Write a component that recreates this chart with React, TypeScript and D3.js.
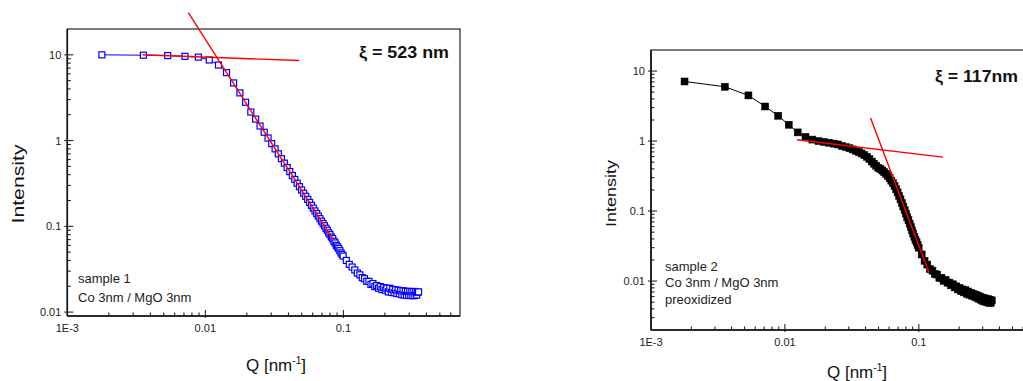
import React, { useEffect, useRef } from 'react';
import * as d3 from 'd3';

// Q grid [nm^-1] shared by both samples (tail thinned out)
const qValues = [
  0.00178, 0.00356, 0.00534, 0.00712, 0.0089, 0.01068, 0.01246, 0.01424, 0.01602, 0.0178,
  0.01958, 0.02136, 0.02314, 0.02492, 0.0267, 0.02848, 0.03026, 0.03204, 0.03382, 0.0356,
  0.03738, 0.03916, 0.04094, 0.04272, 0.0445, 0.04628, 0.04806, 0.04984,
  0.05162, 0.0534, 0.05518, 0.05696, 0.05874, 0.06052, 0.0623, 0.06408, 0.06586, 0.06764,
  0.06942, 0.0712, 0.07298, 0.07476, 0.07654, 0.07832, 0.0801, 0.08188, 0.08366, 0.08544,
  0.08722, 0.089, 0.09078, 0.09256, 0.09434, 0.09612, 0.0979, 0.09968,
  0.10502, 0.11036, 0.1157, 0.12104, 0.12638, 0.13172, 0.13706, 0.1424, 0.14774, 0.15308,
  0.15842, 0.16376, 0.1691, 0.17444, 0.17978, 0.18512, 0.19046, 0.1958, 0.20114, 0.20648,
  0.21182, 0.21716, 0.2225, 0.22784, 0.23318, 0.23852, 0.24386, 0.2492, 0.25454, 0.25988,
  0.26522, 0.27056, 0.2759, 0.28124, 0.28658, 0.29192, 0.29726, 0.3026, 0.30794, 0.31328,
  0.31862, 0.32396, 0.3293, 0.33464, 0.33998, 0.34532, 0.35066,
];

// sample 1 intensity
const intensity1 = [
  10.0, 9.9, 9.8, 9.6, 9.4, 8.7, 7.6, 6.2, 4.7, 3.6,
  2.8, 2.15, 1.78, 1.48, 1.25, 1.07, 0.92, 0.8, 0.7, 0.615,
  0.545, 0.485, 0.435, 0.39, 0.352, 0.318, 0.29, 0.265,
  0.243, 0.224, 0.206, 0.19, 0.1755, 0.163, 0.151, 0.141, 0.1316, 0.123,
  0.115, 0.108, 0.1016, 0.095, 0.09, 0.084, 0.08, 0.075, 0.072, 0.067,
  0.064, 0.06, 0.0575, 0.055, 0.052, 0.049, 0.047, 0.045,
  0.04, 0.036, 0.0335, 0.031, 0.0285, 0.0272, 0.0252, 0.0245, 0.0228, 0.0228,
  0.021, 0.0215, 0.0198, 0.0204, 0.019, 0.0198, 0.0183, 0.0193, 0.018, 0.019,
  0.0172, 0.0189, 0.017, 0.0184, 0.0168, 0.0182, 0.0165, 0.018, 0.0163, 0.0178,
  0.016, 0.0177, 0.0158, 0.0175, 0.0157, 0.0174, 0.0156, 0.0174, 0.0157, 0.0173,
  0.0155, 0.0174, 0.0156, 0.0172, 0.0158, 0.017, 0.0172,
];

// sample 2 intensity
const intensity2 = [
  7.1, 5.97, 4.49, 3.12, 2.3, 1.71, 1.33, 1.15, 1.05, 1.0,
  0.97, 0.945, 0.92, 0.895, 0.85, 0.82, 0.79, 0.76, 0.725, 0.695,
  0.665, 0.63, 0.595, 0.555, 0.51, 0.475, 0.445, 0.415,
  0.4, 0.38, 0.36, 0.34, 0.318, 0.295, 0.272, 0.25, 0.228, 0.205,
  0.185, 0.165, 0.147, 0.13, 0.116, 0.103, 0.092, 0.082, 0.074, 0.066,
  0.059, 0.053, 0.048, 0.043, 0.039, 0.036, 0.033, 0.03,
  0.024, 0.0195, 0.0172, 0.0148, 0.0141, 0.0126, 0.0124, 0.0111, 0.0111, 0.0101,
  0.0104, 0.0095, 0.0095, 0.0087, 0.009, 0.0081, 0.0084, 0.0076, 0.008, 0.0072,
  0.0076, 0.0069, 0.0074, 0.0066, 0.0071, 0.0064, 0.0068, 0.0062, 0.0066, 0.006,
  0.0064, 0.0058, 0.0062, 0.0056, 0.006, 0.0054, 0.0058, 0.0052, 0.0057, 0.0051,
  0.0056, 0.005, 0.0055, 0.0049, 0.0054, 0.0049, 0.0053,
];

// fitted straight lines (end points)
const fit1FlatQ = [0.00351, 0.0478];
const fit1FlatI = [10.0, 8.58];
const fit1SteepQ = [0.00753, 0.0847];
const fit1SteepI = [31, 0.0693];
const fit2FlatQ = [0.0123, 0.151];
const fit2FlatI = [1.045, 0.59];
const fit2SteepQ = [0.0436, 0.1189];
const fit2SteepI = [2.13, 0.0133];

const xDomain = [0.001, 0.7];
const xTickValues = [0.001, 0.01, 0.1];
const xTickLabels = ['1E-3', '0.01', '0.1'];
const yTickValues = [0.01, 0.1, 1, 10];
const yTickLabels = ['0.01', '0.1', '1', '10'];
const notes1 = ['sample 1', 'Co 3nm / MgO 3nm'];
const notes2 = ['sample 2', 'Co 3nm / MgO 3nm', 'preoxidized'];
const xi1 = 'ξ = 523 nm';
const xi2 = 'ξ = 117nm';

const FONT = '"Liberation Sans", Arial, Helvetica, sans-serif';

type Panel = {
  left: number;
  right: number;
  top: number;
  bottom: number;
  yDomain: [number, number];
  intensity: number[];
  fits: [number[], number[]][];
  marker: 'open' | 'filled';
  color: string;
  notes: string[];
  notesX: number;
  notesY: number;
  notesGap: number;
  xi: string;
  xiX: number;
  xiY: number;
  xiLen: number;
  yTitleX: number;
  yTitleY: number;
  yTitleLen: number;
  yTitleSize: number;
  xTitleX: number;
  xTitleY: number;
};

const panels: Panel[] = [
  {
    left: 67.3, right: 460, top: 29, bottom: 316, yDomain: [0.009, 20],
    intensity: intensity1,
    fits: [[fit1FlatQ, fit1FlatI], [fit1SteepQ, fit1SteepI]],
    marker: 'open', color: '#0000ff',
    notes: notes1, notesX: 78, notesY: 283, notesGap: 18.5,
    xi: xi1, xiX: 359, xiY: 58, xiLen: 90,
    yTitleX: 24, yTitleY: 184, yTitleLen: 79, yTitleSize: 16,
    xTitleX: 246, xTitleY: 371,
  },
  {
    left: 651, right: 1032, top: 50, bottom: 330, yDomain: [0.002, 20],
    intensity: intensity2,
    fits: [[fit2FlatQ, fit2FlatI], [fit2SteepQ, fit2SteepI]],
    marker: 'filled', color: '#000000',
    notes: notes2, notesX: 665, notesY: 270.5, notesGap: 16.8,
    xi: xi2, xiX: 935, xiY: 82, xiLen: 83,
    yTitleX: 616, yTitleY: 193.5, yTitleLen: 67, yTitleSize: 15,
    xTitleX: 827, xTitleY: 378,
  },
];

const isDecade = (v: number) => Math.abs(Math.log10(v) - Math.round(Math.log10(v))) < 1e-6;

function drawPanel(svg: d3.Selection<SVGSVGElement, unknown, null, undefined>, p: Panel) {
  const x = d3.scaleLog().domain(xDomain).range([p.left, p.right]);
  const y = d3.scaleLog().domain(p.yDomain).range([p.bottom, p.top]);
  const g = svg.append('g');

  // frame
  g.append('rect')
    .attr('x', p.left).attr('y', p.top)
    .attr('width', p.right - p.left).attr('height', p.bottom - p.top)
    .attr('fill', 'none').attr('stroke', '#111').attr('stroke-width', 1.1);
  g.append('line').attr('x1', p.left).attr('x2', p.right).attr('y1', p.bottom).attr('y2', p.bottom)
    .attr('stroke', '#111').attr('stroke-width', 1.6);
  g.append('line').attr('x1', p.left).attr('x2', p.left).attr('y1', p.top).attr('y2', p.bottom)
    .attr('stroke', '#111').attr('stroke-width', 1.6);

  // ticks (inward, majors poke out a little)
  const xt = x.ticks().filter((v) => x(v) > p.left + 0.5 && x(v) < p.right - 0.5);
  g.selectAll('.xt').data(xt).enter().append('line')
    .attr('x1', (d) => x(d)).attr('x2', (d) => x(d))
    .attr('y1', (d) => (isDecade(d) ? p.bottom + 2 : p.bottom))
    .attr('y2', (d) => (isDecade(d) ? p.bottom - 6 : p.bottom - 3.5))
    .attr('stroke', '#111').attr('stroke-width', 1);
  const yt = y.ticks().filter((v) => y(v) > p.top + 0.5 && y(v) < p.bottom - 0.5);
  g.selectAll('.yt').data(yt).enter().append('line')
    .attr('y1', (d) => y(d)).attr('y2', (d) => y(d))
    .attr('x1', (d) => (isDecade(d) ? p.left - 3 : p.left))
    .attr('x2', (d) => (isDecade(d) ? p.left + 6 : p.left + 3.5))
    .attr('stroke', '#111').attr('stroke-width', 1);

  // tick labels
  g.selectAll('.xl').data(xTickValues).enter().append('text')
    .attr('x', (d) => x(d)).attr('y', p.bottom + 16)
    .attr('text-anchor', 'middle').attr('font-size', 11).attr('font-family', FONT).attr('fill', '#222')
    .text((d, i) => xTickLabels[i]);
  g.selectAll('.yl').data(yTickValues).enter().append('text')
    .attr('x', p.left - 6).attr('y', (d) => y(d)).attr('dy', '0.36em')
    .attr('text-anchor', 'end').attr('font-size', 11).attr('font-family', FONT).attr('fill', '#222')
    .text((d, i) => yTickLabels[i]);

  // data
  const pts = qValues.map((q, i) => [q, p.intensity[i]] as [number, number]);
  const line = d3.line<[number, number]>().x((d) => x(d[0])).y((d) => y(d[1]));
  g.append('path').attr('d', line(pts)).attr('fill', 'none').attr('stroke', p.color).attr('stroke-width', 1);
  const s = p.marker === 'open' ? 6 : 7;
  g.selectAll('.pt').data(pts).enter().append('rect')
    .attr('x', (d) => x(d[0]) - s / 2).attr('y', (d) => y(d[1]) - s / 2)
    .attr('width', s).attr('height', s)
    .attr('fill', p.marker === 'open' ? '#fff' : p.color)
    .attr('stroke', p.color).attr('stroke-width', p.marker === 'open' ? 1.2 : 0.5);

  // fit lines
  p.fits.forEach(([fq, fi]) => {
    const fp = fq.map((q, i) => [q, fi[i]] as [number, number]);
    g.append('path').attr('d', line(fp)).attr('fill', 'none').attr('stroke', '#ff0000').attr('stroke-width', 1.4);
  });

  // texts
  g.append('text').attr('x', p.xiX).attr('y', p.xiY)
    .attr('font-size', 16).attr('font-weight', 'bold').attr('font-family', FONT).attr('fill', '#111')
    .attr('textLength', p.xiLen).attr('lengthAdjust', 'spacingAndGlyphs').text(p.xi);
  p.notes.forEach((t, i) => {
    g.append('text').attr('x', p.notesX).attr('y', p.notesY + i * p.notesGap)
      .attr('font-size', 13).attr('font-family', FONT).attr('fill', '#222').text(t);
  });
  g.append('text')
    .attr('transform', `translate(${p.yTitleX},${p.yTitleY}) rotate(-90)`)
    .attr('text-anchor', 'middle').attr('font-size', p.yTitleSize).attr('font-family', FONT).attr('fill', '#111')
    .attr('textLength', p.yTitleLen).attr('lengthAdjust', 'spacingAndGlyphs').text('Intensity');
  const xt2 = g.append('text').attr('x', p.xTitleX).attr('y', p.xTitleY)
    .attr('font-size', 17).attr('font-family', FONT).attr('fill', '#111');
  xt2.append('tspan').text('Q [nm');
  xt2.append('tspan').attr('font-size', 10).attr('dy', -7).text('-1');
  xt2.append('tspan').attr('dy', 7).text(']');
}

export default function App() {
  const svgRef = useRef<SVGSVGElement>(null);

  useEffect(() => {
    if (!svgRef.current) return;
    const svg = d3.select(svgRef.current);
    svg.selectAll('*').remove();
    svg.append('rect').attr('width', 1023).attr('height', 381).attr('fill', '#fff');
    panels.forEach((p) => drawPanel(svg, p));
  }, []);

  return (
    <svg
      ref={svgRef}
      width={1023}
      height={381}
      style={{ position: 'absolute', left: 0, top: 0, display: 'block' }}
    />
  );
}
